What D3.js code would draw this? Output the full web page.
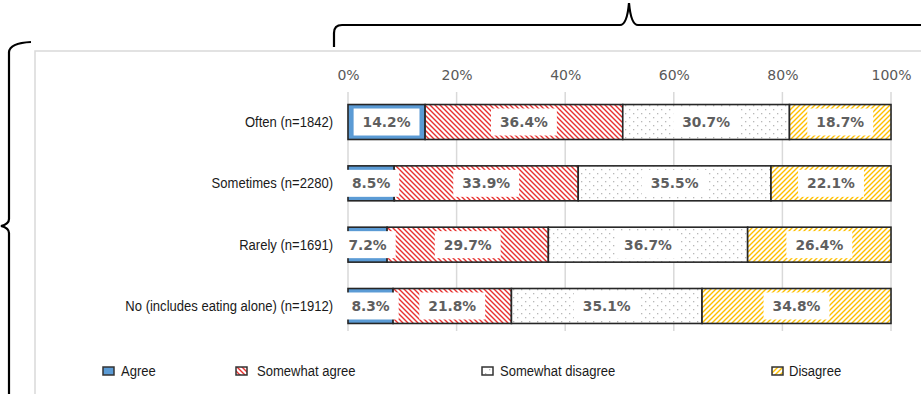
<!DOCTYPE html>
<html>
<head>
<meta charset="utf-8">
<script src="https://cdn.jsdelivr.net/npm/d3@7/dist/d3.min.js"></script>
<style>
  html, body { margin: 0; padding: 0; background: #fff; }
  svg { display: block; }
</style>
</head>
<body>
<svg id="chart" width="921" height="394"></svg>
<script>
// Response categories (stacked left to right)
const series = ["Agree", "Somewhat agree", "Somewhat disagree", "Disagree"];
// Rows: how often the respondent eats with others
const categories = ["Often (n=1842)", "Sometimes (n=2280)", "Rarely (n=1691)", "No (includes eating alone) (n=1912)"];
// Percent shares per row, in series order
const agree            = [14.2, 8.5, 7.2, 8.3];
const somewhatAgree    = [36.4, 33.9, 29.7, 21.8];
const somewhatDisagree = [30.7, 35.5, 36.7, 35.1];
const disagree         = [18.7, 22.1, 26.4, 34.8];
const tickValues = [0, 20, 40, 60, 80, 100];

const svg = d3.select("#chart");
const defs = svg.append("defs");

// Fill patterns
const pAgree = defs.append("pattern").attr("id", "p-sa").attr("patternUnits", "userSpaceOnUse")
  .attr("width", 5).attr("height", 5);
pAgree.append("rect").attr("width", 5).attr("height", 5).attr("fill", "#fff");
pAgree.append("path").attr("d", "M-1,-1 L6,6 M-1,4 L1,6 M4,-1 L6,1")
  .attr("stroke", "#e8312f").attr("stroke-width", 1.4);

const pDots = defs.append("pattern").attr("id", "p-sd").attr("patternUnits", "userSpaceOnUse")
  .attr("width", 8).attr("height", 8);
pDots.append("rect").attr("width", 8).attr("height", 8).attr("fill", "#fff");
pDots.append("rect").attr("x", 1).attr("y", 1).attr("width", 1.3).attr("height", 1.3).attr("fill", "#b8b8b8");
pDots.append("rect").attr("x", 5).attr("y", 5).attr("width", 1.3).attr("height", 1.3).attr("fill", "#b8b8b8");

const pDis = defs.append("pattern").attr("id", "p-d").attr("patternUnits", "userSpaceOnUse")
  .attr("width", 5).attr("height", 5);
pDis.append("rect").attr("width", 5).attr("height", 5).attr("fill", "#fff");
pDis.append("path").attr("d", "M-1,6 L6,-1 M-1,1 L1,-1 M4,6 L6,4")
  .attr("stroke", "#ffc000").attr("stroke-width", 1.4);

const fills = { "Agree": "#5b9bd5", "Somewhat agree": "url(#p-sa)", "Somewhat disagree": "url(#p-sd)", "Disagree": "url(#p-d)" };

// Chart area frame
svg.append("rect").attr("x", 35).attr("y", 51).attr("width", 900).attr("height", 360)
  .attr("fill", "none").attr("stroke", "#d9d9d9").attr("stroke-width", 1.5);

// Braces
svg.append("path")
  .attr("d", "M334,47 L334,33 Q334,25 342,25 L620,25 Q627,25 629,3 Q631,25 638,25 L925,25")
  .attr("fill", "none").attr("stroke", "#000").attr("stroke-width", 2.2);
svg.append("path")
  .attr("d", "M31,42 Q10,43 9,52 L9,219 Q9,224 1,226 Q9,228 9,233 L9,398")
  .attr("fill", "none").attr("stroke", "#000").attr("stroke-width", 2.2);

const x = d3.scaleLinear().domain([0, 100]).range([348, 891]);
const y = d3.scaleBand().domain(categories).range([91.35, 336.65]).paddingInner(0.43).paddingOuter(0.215);

// Gridlines
svg.append("g").selectAll("line").data(tickValues).join("line")
  .attr("x1", d => x(d)).attr("x2", d => x(d))
  .attr("y1", 92).attr("y2", 331)
  .attr("stroke", "#d9d9d9").attr("stroke-width", 1.5);

// Top axis labels
const axis = svg.append("g").attr("transform", "translate(0,80)")
  .call(d3.axisTop(x).tickValues(tickValues).tickFormat(d => d + "%").tickSize(0).tickPadding(0));
axis.select(".domain").remove();
axis.selectAll("text").attr("font-family", "DejaVu Sans, Verdana, sans-serif")
  .attr("font-size", 14).attr("fill", "#595959");

// Condensed sans text: horizontally squeezed regular sans
const narrowFont = "Liberation Sans, Arial, sans-serif";
const squeeze = 0.9;
function narrowText(sel, px, py, anchor) {
  return sel.append("text")
    .attr("transform", `translate(${px},${py}) scale(${squeeze},1)`)
    .attr("dy", "0.35em").attr("text-anchor", anchor)
    .attr("font-family", narrowFont).attr("font-size", 14.5).attr("fill", "#1a1a1a");
}

// Category labels
const catG = svg.append("g");
categories.forEach(c => {
  narrowText(catG, 333, y(c) + y.bandwidth() / 2, "end").text(c);
});

// Stack the series
const rows = categories.map((c, i) => ({
  cat: c,
  "Agree": agree[i], "Somewhat agree": somewhatAgree[i],
  "Somewhat disagree": somewhatDisagree[i], "Disagree": disagree[i]
}));
const stacked = d3.stack().keys(series)(rows);

const segs = svg.append("g");
stacked.forEach(layer => {
  segs.append("g").selectAll("rect").data(layer).join("rect")
    .attr("x", d => x(d[0])).attr("width", d => x(d[1]) - x(d[0]))
    .attr("y", d => y(d.data.cat)).attr("height", y.bandwidth())
    .attr("fill", fills[layer.key])
    .attr("stroke", "#262626").attr("stroke-width", 1.6);
});

// Value labels on white boxes
const labelFont = "DejaVu Sans, Verdana, sans-serif";
stacked.forEach(layer => {
  layer.forEach(d => {
    const v = d.data[layer.key];
    const cx = (x(d[0]) + x(d[1])) / 2;
    const cy = y(d.data.cat) + y.bandwidth() / 2;
    const g = segs.append("g");
    const t = g.append("text").attr("x", cx).attr("y", cy).attr("dy", "0.36em")
      .attr("text-anchor", "middle").attr("font-family", labelFont)
      .attr("font-weight", "bold").attr("font-size", 13.8)
      .attr("fill", "#5f5f5f").text(v.toFixed(1) + "%");
    const w = t.node().getComputedTextLength() + 18;
    g.insert("rect", "text").attr("x", cx - w / 2).attr("y", cy - 13.5)
      .attr("width", w).attr("height", 27).attr("fill", "#fff");
  });
});

// Legend
const legendX = [103, 236, 482, 772];
const legendTextX = [121, 257, 500, 789];
const lg = svg.append("g");
series.forEach((s, i) => {
  lg.append("rect").attr("x", legendX[i]).attr("y", 367).attr("width", 11).attr("height", 8)
    .attr("fill", fills[s]).attr("stroke", "#333").attr("stroke-width", 1.5);
  narrowText(lg, legendTextX[i], 371, "start").text(s);
});
</script>
</body>
</html>
